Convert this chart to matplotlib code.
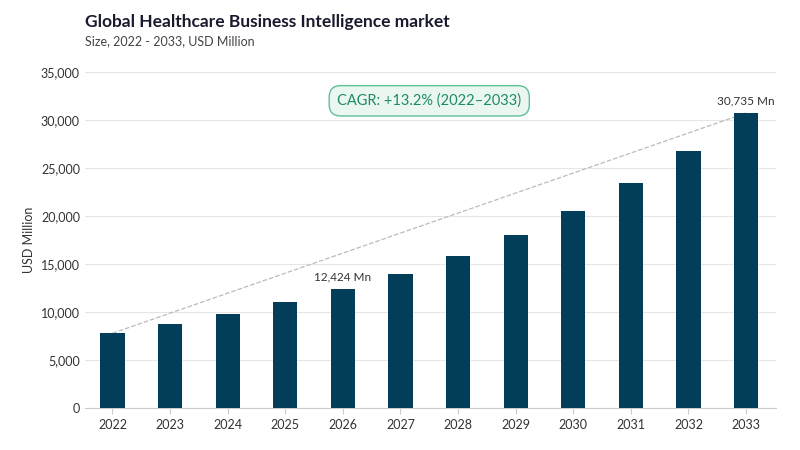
import matplotlib
matplotlib.use("Agg")
import matplotlib.pyplot as plt

years = ["2022", "2023", "2024", "2025", "2026", "2027", "2028", "2029", "2030", "2031", "2032", "2033"]
values = [7800, 8750, 9800, 11040, 12424, 13960, 15830, 18020, 20520, 23440, 26770, 30735]
yticks = [0, 5000, 10000, 15000, 20000, 25000, 30000, 35000]

plt.rcParams['font.family'] = ['Lato', 'DejaVu Sans']
fig = plt.figure(figsize=(8, 4.5), dpi=100)
ax = fig.add_axes([0.106, 0.093, 0.864, 0.747])

x = list(range(len(years)))
ax.bar(x, values, width=0.42, color="#023e5a", zorder=3)
ax.plot([x[0], x[-1]], [values[0], values[-1]], ls="--", color="#bbbbbb", lw=0.9, zorder=2)

ax.set_ylim(0, 35000)
ax.set_xlim(-0.48, 11.52)
ax.set_yticks(yticks)
ax.set_yticklabels([f"{v:,}" for v in yticks], fontsize=9, color="#333333")
ax.set_xticks(x)
ax.set_xticklabels(years, fontsize=9, color="#333333")
ax.set_ylabel("USD Million", fontsize=9, color="#333333")
ax.grid(axis="y", color="#e6e6e6", lw=0.8, zorder=0)
for s in ["top", "right", "left"]:
    ax.spines[s].set_visible(False)
ax.spines["bottom"].set_color("#cccccc")
ax.tick_params(length=0)
ax.tick_params(axis="x", length=4, color="#cccccc")

ax.text(x[4], values[4] + 900, f"{values[4]:,} Mn", ha="center", fontsize=8.5, color="#333333")
ax.text(x[11], values[11] + 900, f"{values[11]:,} Mn", ha="center", fontsize=8.5, color="#333333")
ax.text(5.5, 32000, "CAGR: +13.2% (2022\u20132033)", ha="center", va="center", fontsize=10.5,
        color="#1f8a63", bbox=dict(boxstyle="round,pad=0.55,rounding_size=0.8", fc="#eaf7f1", ec="#5fbf97", lw=1))

fig.text(0.106, 0.94, "Global Healthcare Business Intelligence market", fontsize=12.5, fontweight="bold", color="#1a1a2e")
fig.text(0.106, 0.9, "Size, 2022 - 2033, USD Million", fontsize=9, color="#444444")

fig.savefig("out.png")
